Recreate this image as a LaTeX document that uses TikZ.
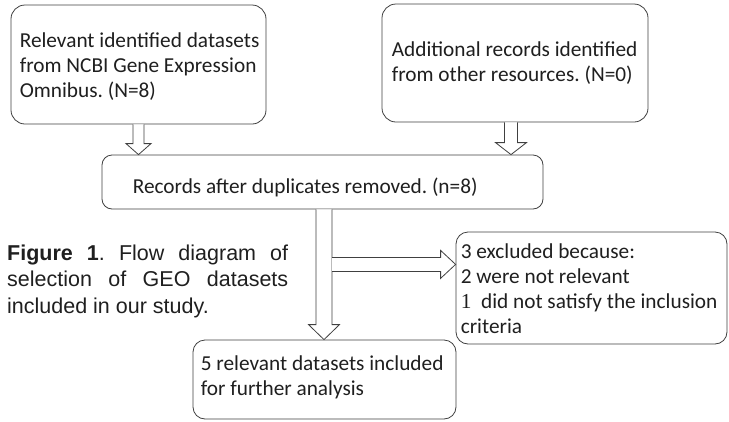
\documentclass[tikz,border=0pt]{standalone}
\usepackage{fontspec}
\setmainfont{Carlito}
\newfontfamily\capfont{Liberation Sans}
\newfontfamily\onefont{Liberation Serif}
\usetikzlibrary{calc}
\frenchspacing
\begin{document}
\begin{tikzpicture}[x=1pt,y=-1pt,
  box/.style={draw=black!75, line width=0.8pt, rounded corners=14pt, fill=white},
  txt/.style={anchor=west, align=left, inner sep=0pt, font=\fontsize{21.3}{25}\selectfont, text=black!88},
  blk/.style={draw=black!75, line width=0.8pt, fill=white, line join=miter}]
\useasboundingbox (0,0) rectangle (729,421);
% boxes
\node[box, minimum width=255pt, minimum height=119pt] (b1) at (138.5,64.5) {};
\node[box, minimum width=266pt, minimum height=118pt] (b2) at (515,63) {};
\node[box, rounded corners=10pt, minimum width=441pt, minimum height=54pt] (b3) at (322.5,182) {};
\node[box, rounded corners=12pt, minimum width=271pt, minimum height=112pt] (b4) at (591.5,288) {};
\node[box, rounded corners=12pt, minimum width=263pt, minimum height=79pt] (b5) at (324.5,379.5) {};
% texts
\node[txt] (t1) at ($(b1.west)+(9,2)$) {Relevant identified datasets\\from NCBI Gene Expression\\Omnibus. (N=8)};
\node[txt] (t2) at ($(b2.west)+(10,0)$) {Additional records identified\\from other resources. (N=0)};
\node[txt] (t3) at ($(b3.west)+(31,5)$) {Records after duplicates removed. (n=8)};
\node[txt] (t4) at ($(b4.west)+(5,1)$) {3 excluded because:\\2 were not relevant\\{\onefont 1}\ \ did not satisfy the inclusion\\criteria};
\node[txt] (t5) at ($(b5.west)+(8,-2)$) {5 relevant datasets included\\for further analysis};
% caption
\node[anchor=north west, align=left, inner sep=0pt, text=black!88,
  font=\capfont\fontsize{21.5}{26.5}\selectfont] (cap) at (7,244.5)
  {\hbox to 281pt{\textbf{Figure 1}. Flow diagram of}\\
   \hbox to 281pt{selection of GEO datasets}\\
   included in our study.};
% block arrows
\coordinate (a1) at (b1.south);
\coordinate (h1) at (a1 |- b3.north);
\draw[blk] ($(a1)+(-5.5,0)$) -- ($(h1)+(-5.5,-11)$) -- ++(-7,0) -- (h1)
  -- ($(h1)+(12.5,-11)$) -- ++(-7,0) -- ($(a1)+(5.5,0)$);
\coordinate (a2) at ($(b2.south)+(-4,0)$);
\coordinate (h2) at (a2 |- b3.north);
\draw[blk] ($(a2)+(-6.5,0)$) -- ($(h2)+(-6.5,-12)$) -- ++(-9,0) -- (h2)
  -- ($(h2)+(15.5,-12)$) -- ++(-9,0) -- ($(a2)+(6.5,0)$);
\coordinate (a3) at ($(b3.south)+(1.5,0)$);
\coordinate (h3) at (a3 |- b5.north);
\draw[blk] ($(a3)+(-8,0)$) -- ($(h3)+(-8,-15)$) -- ++(-7.5,0) -- (h3)
  -- ($(h3)+(15.5,-15)$) -- ++(-7.5,0) -- ($(a3)+(8,0)$);
\coordinate (a4) at ($(a3)+(8,55)$);
\coordinate (h4) at (a4 -| b4.west);
\draw[blk] ($(a4)+(0,-7)$) -- ($(h4)+(-15,-7)$) -- ++(0,-7) -- (h4)
  -- ($(h4)+(-15,14)$) -- ++(0,-7) -- ($(a4)+(0,7)$);
\end{tikzpicture}
\end{document}
